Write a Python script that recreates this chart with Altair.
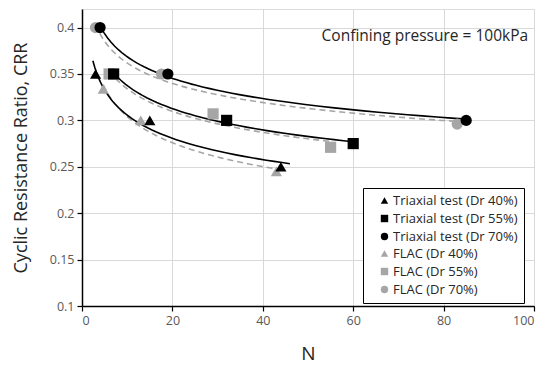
import altair as alt
import pandas as pd

FONT = "Open Sans"

series_names = ["Triaxial test (Dr 40%)", "Triaxial test (Dr 55%)", "Triaxial test (Dr 70%)",
                "FLAC (Dr 40%)", "FLAC (Dr 55%)", "FLAC (Dr 70%)"]
series_colors = ["#000000", "#000000", "#000000", "#a6a6a6", "#a6a6a6", "#a6a6a6"]
series_shapes = ["triangle-up", "square", "circle", "triangle-up", "square", "circle"]

N_tri40 = [3, 15, 44]
CRR_tri40 = [0.35, 0.30, 0.25]
N_tri55 = [7, 32, 60]
CRR_tri55 = [0.35, 0.30, 0.275]
N_tri70 = [4, 19, 85]
CRR_tri70 = [0.40, 0.35, 0.30]
N_flac40 = [4.7, 13, 43]
CRR_flac40 = [0.334, 0.30, 0.245]
N_flac55 = [6, 29, 55]
CRR_flac55 = [0.35, 0.307, 0.271]
N_flac70 = [3, 17.6, 83]
CRR_flac70 = [0.40, 0.35, 0.296]

# trend line ranges (N)
extent_tri40 = [2.4, 46]
extent_tri55 = [7, 60]
extent_tri70 = [4, 85]
extent_flac40 = [4.7, 43]
extent_flac55 = [6, 55]
extent_flac70 = [3, 83]

note_text = ["Confining pressure = 100kPa"]
note_N = [98.7]
note_CRR = [0.391]

rows = []
def add(name, Ns, Cs):
    for n, c in zip(Ns, Cs):
        rows.append({"series": name, "N": n, "CRR": c})

# FLAC first so black markers draw on top
add(series_names[3], N_flac40, CRR_flac40)
add(series_names[4], N_flac55, CRR_flac55)
add(series_names[5], N_flac70, CRR_flac70)
add(series_names[0], N_tri40, CRR_tri40)
add(series_names[1], N_tri55, CRR_tri55)
add(series_names[2], N_tri70, CRR_tri70)
df = pd.DataFrame(rows)

xscale = alt.Scale(domain=[0, 100], nice=False)
yscale = alt.Scale(domain=[0.1, 0.42], nice=False, zero=False)

xaxis = alt.Axis(values=[0, 20, 40, 60, 80, 100], title="N", titleFontSize=19,
                 titleFontWeight="normal", titleColor="#262626", titlePadding=18,
                 labelFontSize=12.5, labelColor="#595959", labelFont=FONT, titleFont=FONT,
                 grid=True, gridColor="#d9d9d9", domainColor="black", domainWidth=1.5,
                 tickColor="black", tickSize=5, tickWidth=1.2, labelPadding=3)
yaxis = alt.Axis(values=[0.1, 0.15, 0.2, 0.25, 0.3, 0.35, 0.4], format=".2~f",
                 title="Cyclic Resistance Ratio, CRR", titleFontSize=18,
                 titleFontWeight="normal", titleColor="#262626", titlePadding=19,
                 labelFontSize=12.5, labelColor="#595959", labelFont=FONT, titleFont=FONT,
                 grid=True, gridColor="#d9d9d9", domainColor="black", domainWidth=1.5,
                 tickColor="black", tickSize=5, tickWidth=1.2, labelPadding=3)

base = alt.Chart(df)

lines = []
fits = [
    (series_names[3], extent_flac40, True),
    (series_names[4], extent_flac55, True),
    (series_names[5], extent_flac70, True),
    (series_names[0], extent_tri40, False),
    (series_names[1], extent_tri55, False),
    (series_names[2], extent_tri70, False),
]
for name, ext, dashed in fits:
    ln = base.transform_filter(alt.datum.series == name).transform_regression(
        "N", "CRR", method="pow", extent=ext
    )
    if dashed:
        m = ln.mark_line(color="#a6a6a6", strokeWidth=1.6, strokeDash=[6, 4])
    else:
        m = ln.mark_line(color="#000000", strokeWidth=1.6)
    lines.append(m.encode(x=alt.X("N:Q", scale=xscale, axis=xaxis),
                          y=alt.Y("CRR:Q", scale=yscale, axis=yaxis)))

points = base.mark_point(filled=True, size=125, opacity=1).encode(
    x=alt.X("N:Q", scale=xscale, axis=xaxis),
    y=alt.Y("CRR:Q", scale=yscale, axis=yaxis),
    color=alt.Color("series:N", scale=alt.Scale(domain=series_names, range=series_colors),
                    legend=alt.Legend(title=None, orient="none", legendX=281, legendY=179,
                                      strokeColor="black", fillColor="white",
                                      padding=6, labelFontSize=13, labelFont=FONT,
                                      labelColor="#262626", symbolSize=55, rowPadding=3,
                                      labelOffset=2, symbolOffset=9, symbolOpacity=1)),
    shape=alt.Shape("series:N", scale=alt.Scale(domain=series_names, range=series_shapes)),
)

note = alt.Chart(pd.DataFrame({"t": note_text, "N": note_N, "CRR": note_CRR})).mark_text(
    align="right", baseline="middle", fontSize=15.5, font=FONT, color="#262626"
).encode(x=alt.X("N:Q", scale=xscale), y=alt.Y("CRR:Q", scale=yscale), text="t:N")

chart = alt.layer(*lines, points, note).properties(
    width=452, height=297,
    autosize=alt.AutoSizeParams(type="none"),
    padding={"left": 74, "top": 1, "right": 4, "bottom": 60},
).configure_view(stroke="black", strokeWidth=1.5).configure(font=FONT)

chart.save("out.html", embed_options={"renderer": "svg", "actions": False})
